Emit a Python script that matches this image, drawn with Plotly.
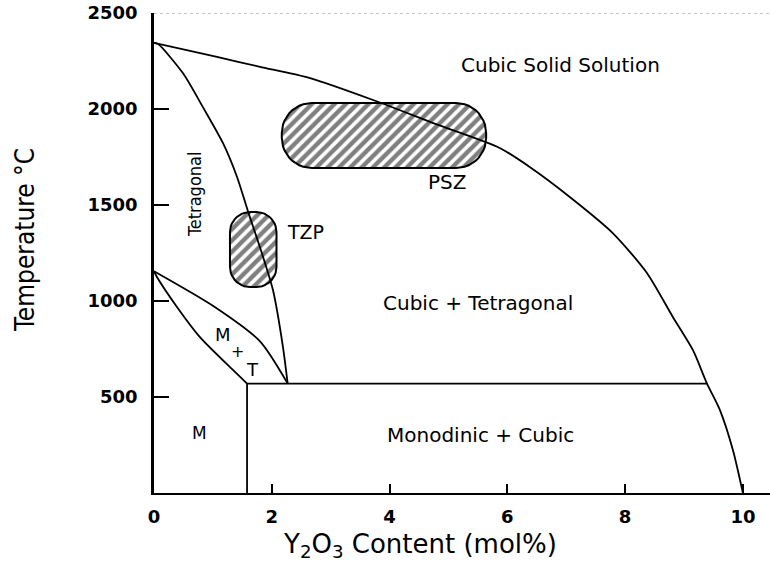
import numpy as np
import plotly.graph_objects as go

# ---------------- data (Y2O3 mol%, temperature °C) ----------------
X_MAX = 10.46
T_MAX = 2500

cubic_x = [0, 1.07, 1.80, 2.65, 3.72, 4.80, 5.87, 6.38, 7.06, 7.79, 8.37, 8.81, 9.15, 9.39, 9.61, 9.83, 10.0]
cubic_t = [2344, 2271, 2220, 2161, 2047, 1920, 1797, 1698, 1542, 1354, 1146, 917, 745, 570, 432, 224, 0]

tetra_x = [0, 0.07, 0.49, 0.83, 1.17, 1.41, 1.60, 1.82, 2.02, 2.19, 2.27]
tetra_t = [2344, 2338, 2187, 2010, 1823, 1646, 1463, 1260, 1057, 760, 570]

mt_upper_x = [0, 1.0, 1.8, 2.27]
mt_upper_t = [1155, 975, 790, 570]

mt_lower_x = [0, 0.05, 0.39, 0.78, 1.34, 1.58]
mt_lower_t = [1155, 1125, 969, 812, 641, 570]

eutectoid_x = [1.58, 9.39]
eutectoid_t = [570, 570]

mono_x = [1.58, 1.58]
mono_t = [570, 0]

psz_x = [2.17, 5.64]
psz_t = [1693, 2031]
tzp_x = [1.29, 2.08]
tzp_t = [1073, 1463]

label_text = ["Cubic Solid Solution", "PSZ", "TZP", "Cubic + Tetragonal",
              "M", "+", "T", "M", "Monodinic + Cubic"]
label_x = [6.9, 4.97, 2.58, 5.51, 1.17, 1.42, 1.68, 0.78, 5.54]
label_t = [2229, 1620, 1359, 990, 823, 735, 641, 312, 302]
label_size = [20, 20, 19, 20, 18, 16, 18, 17, 20]

x_ticks = [0, 2, 4, 6, 8, 10]
t_ticks = [500, 1000, 1500, 2000, 2500]

# ---------------- layout geometry ----------------
W, H = 770, 562
ML, MT, MB, MR = 154, 13, 69, 0
PW, PH = W - ML - MR, H - MT - MB
PX_X = PW / X_MAX
PX_T = PH / T_MAX


def rounded_box(xr, tr, r_px, n=12):
    """Rounded rectangle outline built from extents (radius in pixels)."""
    x0, x1 = xr
    t0, t1 = tr
    rx = r_px / PX_X
    rt = r_px / PX_T
    xs, ts = [], []
    corners = [(x1 - rx, t1 - rt, 0), (x0 + rx, t1 - rt, 90),
               (x0 + rx, t0 + rt, 180), (x1 - rx, t0 + rt, 270)]
    for cx, ct, a0 in corners:
        for a in np.linspace(np.radians(a0), np.radians(a0 + 90), n):
            xs.append(cx + rx * np.cos(a))
            ts.append(ct + rt * np.sin(a))
    xs.append(xs[0])
    ts.append(ts[0])
    return xs, ts


fig = go.Figure()

hatch = dict(shape="/", fgcolor="black", bgcolor="white", size=8, solidity=0.55)
for bx, bt, r in [(psz_x, psz_t, 30), (tzp_x, tzp_t, 20)]:
    xs, ts = rounded_box(bx, bt, r)
    fig.add_trace(go.Scatter(x=xs, y=ts, mode="lines", fill="toself",
                             fillpattern=hatch, fillcolor="white",
                             line=dict(color="black", width=2),
                             hoverinfo="skip", showlegend=False))

LW = 1.8
for xs, ts, shape in [(cubic_x, cubic_t, "spline"), (tetra_x, tetra_t, "spline"),
                      (mt_upper_x, mt_upper_t, "spline"), (mt_lower_x, mt_lower_t, "spline"),
                      (eutectoid_x, eutectoid_t, "linear"), (mono_x, mono_t, "linear")]:
    fig.add_trace(go.Scatter(x=xs, y=ts, mode="lines",
                             line=dict(color="black", width=LW, shape=shape, smoothing=0.7),
                             hoverinfo="skip", showlegend=False))

LBL_FONT = "DejaVu Sans, Arial, sans-serif"
for txt, lx, lt, sz in zip(label_text, label_x, label_t, label_size):
    fig.add_annotation(x=lx, y=lt, text=txt, showarrow=False,
                       font=dict(family=LBL_FONT, size=sz, color="black"),
                       xanchor="center", yanchor="middle")

NARROW = "Liberation Sans Narrow, DejaVu Sans Condensed, Arial Narrow, sans-serif"
fig.add_annotation(x=0.68, y=1557, text="Tetragonal", textangle=-90, showarrow=False,
                   font=dict(family=NARROW, size=18, color="black"))

# axis titles
fig.add_annotation(xref="paper", yref="paper", x=(420 - ML) / PW, y=(493 - 545) / PH,
                   text="Y<sub>2</sub>O<sub>3</sub> Content (mol%)", showarrow=False,
                   font=dict(family=LBL_FONT, size=26, color="black"),
                   xanchor="center", yanchor="middle")
fig.add_annotation(xref="paper", yref="paper", x=(25 - ML) / PW, y=(493 - 240) / PH,
                   text="Temperature °C", textangle=-90, showarrow=False,
                   font=dict(family=NARROW, size=26, color="black"),
                   xanchor="center", yanchor="middle")

# faint dotted top border
fig.add_shape(type="line", xref="paper", yref="y", x0=0, x1=1, y0=T_MAX, y1=T_MAX,
              line=dict(color="#888888", width=1, dash="dot"))

TICK_FONT = dict(family="DejaVu Sans, Arial, sans-serif", size=18, color="black", weight="bold")
fig.update_xaxes(range=[0, X_MAX], tickvals=x_ticks, ticktext=[str(v) for v in x_ticks],
                 ticks="inside", ticklen=9, tickwidth=1.5, tickcolor="black",
                 showline=True, linecolor="black", linewidth=2, showgrid=False,
                 zeroline=False, tickfont=TICK_FONT, ticklabelstandoff=6)
fig.update_yaxes(range=[0, T_MAX], tickvals=t_ticks, ticktext=[str(v) for v in t_ticks],
                 ticks="inside", ticklen=15, tickwidth=1.5, tickcolor="black",
                 showline=True, linecolor="black", linewidth=2.5, showgrid=False,
                 zeroline=False, tickfont=TICK_FONT, ticklabelstandoff=10)

fig.update_layout(width=W, height=H, margin=dict(l=ML, r=MR, t=MT, b=MB),
                  plot_bgcolor="white", paper_bgcolor="white", showlegend=False)

fig.write_html("out.html", config={"displayModeBar": False},
               post_script="document.body.style.margin='0px';")
